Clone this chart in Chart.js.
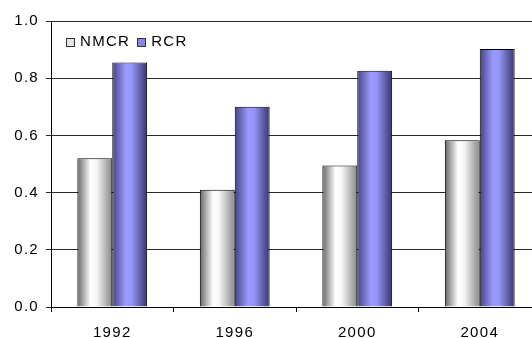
<!DOCTYPE html>
<html>
<head>
<meta charset="utf-8">
<script src="https://cdn.jsdelivr.net/npm/chart.js@4/dist/chart.umd.min.js"></script>
<style>
  html, body { margin: 0; padding: 0; background: #fff; overflow: hidden; }
  #wrap { position: relative; width: 541px; height: 338px; }
</style>
</head>
<body>
<div id="wrap"><canvas id="c"></canvas></div>
<script>
// Survey years and ratios for the two groups
const years = ['1992', '1996', '2000', '2004'];
const nmcr = [0.52, 0.41, 0.495, 0.583];
const rcr = [0.855, 0.70, 0.826, 0.902];
const yTicks = [0, 0.2, 0.4, 0.6, 0.8, 1.0];

const CAT_PCT = 0.57;
const FONT_FAMILY = 'Liberation Sans, Arial, sans-serif';
const font = { family: FONT_FAMILY, size: 15 };

// Horizontal shading across each bar, giving a rounded look
const shades = [
  [[0, '#666666'], [0.38, '#ffffff'], [0.55, '#f6f6f6'], [1, '#888888']],
  [[0, '#444480'], [0.38, '#9999ff'], [0.55, '#9696fa'], [1, '#36366a']]
];

function shadeBetween(ctx2d, idx, left, right) {
  const g = ctx2d.createLinearGradient(left, 0, right, 0);
  shades[idx].forEach(s => g.addColorStop(s[0], s[1]));
  return g;
}

function barShade(ctx) {
  const chart = ctx.chart;
  const xs = chart.scales.x;
  if (!xs || !chart.chartArea) return shades[ctx.datasetIndex][1][1];
  const catW = xs.width / years.length;
  const groupW = catW * CAT_PCT;
  const barW = groupW / 2;
  const center = xs.getPixelForValue(ctx.dataIndex);
  const left = center - groupW / 2 + ctx.datasetIndex * barW;
  return shadeBetween(chart.ctx, ctx.datasetIndex, left, left + barW);
}

// Slightly wider lettering for all chart text
const textSpacing = {
  id: 'textSpacing',
  beforeDraw(chart) { chart.ctx.letterSpacing = '1.3px'; }
};

// Single-row legend placed inside the plot, near the top-left corner
const inlineLegend = {
  id: 'inlineLegend',
  afterDatasetsDraw(chart) {
    const ctx = chart.ctx;
    const area = chart.chartArea;
    const box = 8;
    const cy = 41.5;
    let x = area.left + 15;
    ctx.save();
    ctx.font = `${font.size}px ${FONT_FAMILY}`;
    ctx.textBaseline = 'middle';
    ctx.textAlign = 'left';
    chart.data.datasets.forEach((ds, i) => {
      const top = Math.round(cy - box / 2) + 0.5;
      const bx = Math.round(x) + 0.5;
      ctx.fillStyle = ds.legendFill;
      ctx.fillRect(bx, top, box, box);
      ctx.strokeStyle = '#333';
      ctx.lineWidth = 1;
      ctx.strokeRect(bx, top, box, box);
      ctx.fillStyle = '#000';
      const tx = x + box + 6;
      ctx.fillText(ds.label, tx, cy + 0.5);
      x = tx + ctx.measureText(ds.label).width + 7;
    });
    ctx.restore();
  }
};

new Chart(document.getElementById('c'), {
  type: 'bar',
  data: {
    labels: years,
    datasets: [
      { label: 'NMCR', data: nmcr, backgroundColor: barShade, borderColor: '#000', borderWidth: 1,
        legendFill: '#e4e4e4' },
      { label: 'RCR', data: rcr, backgroundColor: barShade, borderColor: '#000', borderWidth: 1,
        legendFill: '#8686e8' }
    ]
  },
  plugins: [textSpacing, inlineLegend],
  options: {
    responsive: true,
    maintainAspectRatio: false,
    animation: false,
    events: [],
    layout: { padding: { top: 21, left: 0, right: 0, bottom: 0 } },
    datasets: { bar: { categoryPercentage: CAT_PCT, barPercentage: 1 } },
    plugins: {
      tooltip: { enabled: false },
      legend: { display: false }
    },
    scales: {
      x: {
        grid: { display: true, offset: true, drawOnChartArea: false, drawTicks: true, tickLength: 5, color: '#000' },
        border: { display: true, color: '#000', width: 1 },
        ticks: { font: font, color: '#000', padding: 12, maxRotation: 0 },
        afterFit(s) { s.height = 31; }
      },
      y: {
        min: 0,
        max: 1,
        afterBuildTicks(s) { s.ticks = yTicks.map(v => ({ value: v })); },
        grid: { color: '#2a2a2a', lineWidth: 1, drawTicks: true, tickLength: 5 },
        border: { display: true, color: '#000', width: 1 },
        ticks: { font: font, color: '#000', padding: 7, callback: v => Number(v).toFixed(1) },
        afterFit(s) { s.width = 51; }
      }
    }
  }
});
</script>
</body>
</html>
